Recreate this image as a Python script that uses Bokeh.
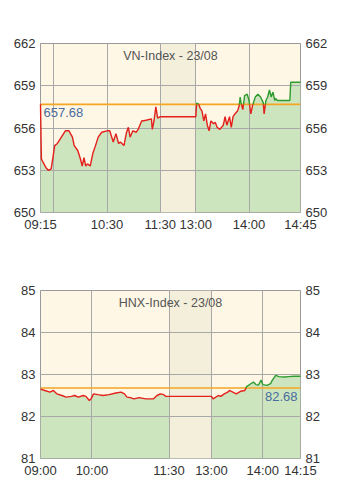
from bokeh.plotting import figure
from bokeh.layouts import column
from bokeh.models import Range1d, LinearAxis, FixedTicker, Label, Span
from bokeh.embed import file_html
from bokeh.resources import INLINE

# ---------------- VN-Index data ----------------
vn_title = "VN-Index - 23/08"
vn_ref = 657.68
vn_times = ["09:15", "09:16", "09:21", "09:24", "09:27", "09:29", "09:31", "09:34", "09:36", "09:40",
            "09:43", "09:47", "09:51", "09:53", "09:57", "10:00", "10:02", "10:04", "10:06", "10:08",
            "10:11", "10:14", "10:17", "10:20", "10:24", "10:30", "10:33", "10:37", "10:40", "10:43",
            "10:45", "10:49", "10:52", "10:54", "10:56", "10:59", "11:03", "11:05", "11:07", "11:09",
            "11:14", "11:20", "11:21", "11:23", "11:25", "11:27", "11:30",
            "13:00", "13:01", "13:03", "13:05", "13:07", "13:09", "13:11", "13:13", "13:15", "13:17",
            "13:20", "13:22", "13:24", "13:27", "13:31", "13:33", "13:35", "13:38", "13:40", "13:42",
            "13:44", "13:47", "13:49", "13:50", "13:51", "13:53", "13:55", "13:58", "14:00", "14:02",
            "14:04", "14:07", "14:10", "14:13", "14:16", "14:17", "14:19", "14:21", "14:23", "14:25",
            "14:27", "14:29", "14:30", "14:32", "14:46", "14:47", "14:58"]
vn_values = [657.68, 653.8, 653.2, 652.98, 653.1, 653.9, 654.75, 654.9, 655.1, 655.5,
             655.8, 655.8, 655.35, 654.75, 654.4, 653.8, 653.3, 653.9, 653.3, 653.45,
             653.3, 654.2, 654.75, 655.35, 655.7, 655.8, 655.8, 655.0, 655.6, 654.9,
             655.0, 654.75, 655.7, 656.05, 655.35, 655.8, 655.7, 655.9, 656.2, 656.5,
             656.55, 656.65, 655.9, 656.55, 657.5, 656.7, 656.8,
             656.8, 657.77, 657.7, 657.4, 657.2, 656.5, 657.0, 656.2, 655.8, 656.5,
             656.3, 656.4, 656.05, 655.9, 656.2, 656.8, 656.2, 656.8, 656.05, 656.8,
             657.0, 657.2, 657.6, 658.2, 657.8, 657.3, 658.3, 658.4, 657.95, 657.0,
             657.6, 658.2, 658.4, 658.2, 657.8, 657.0, 657.95, 658.2, 658.7, 658.2,
             658.55, 657.95, 658.1, 657.95, 657.95, 659.25, 659.25]
vn_yticks = [650, 653, 656, 659, 662]
vn_xtick_times = ["09:15", "10:30", "11:30", "13:00", "14:00", "14:58"]
vn_xtick_labels = ["09:15", "10:30", "11:30", "13:00", "14:00", "14:45"]
vn_xgrid_times = ["09:30", "10:30", "11:30", "13:00", "14:00"]
vn_session = ("09:15", "11:30", "13:00", "14:58")
vn_gap = 40  # minutes of axis width given to the lunch break

# ---------------- HNX-Index data ----------------
hnx_title = "HNX-Index - 23/08"
hnx_ref = 82.68
hnx_times = ["09:00", "09:05", "09:11", "09:15", "09:19", "09:25", "09:30", "09:36", "09:40", "09:44",
             "09:50", "09:53", "09:57", "09:59", "10:02", "10:07", "10:13", "10:20", "10:28", "10:34",
             "10:38", "10:41", "10:45", "10:49", "10:55", "11:03", "11:12", "11:16", "11:20", "11:24",
             "11:26", "11:30",
             "13:00", "13:02", "13:08", "13:11", "13:15", "13:19", "13:21", "13:25", "13:29", "13:34",
             "13:39", "13:41", "13:46", "13:49", "13:52", "13:55", "13:58", "14:00", "14:05", "14:09",
             "14:11", "14:15", "14:19", "14:25", "14:30", "14:36", "14:44"]
hnx_values = [82.65, 82.62, 82.58, 82.62, 82.54, 82.5, 82.46, 82.48, 82.5, 82.46,
              82.5, 82.48, 82.38, 82.42, 82.54, 82.52, 82.5, 82.52, 82.56, 82.58,
              82.54, 82.46, 82.45, 82.42, 82.45, 82.42, 82.42, 82.5, 82.54, 82.52,
              82.48, 82.48,
              82.48, 82.42, 82.5, 82.48, 82.54, 82.58, 82.62, 82.58, 82.54, 82.6,
              82.62, 82.71, 82.78, 82.82, 82.76, 82.75, 82.87, 82.76, 82.74, 82.78,
              82.86, 82.98, 82.95, 82.94, 82.95, 82.96, 82.96]
hnx_yticks = [81, 82, 83, 84, 85]
hnx_xtick_times = ["09:00", "10:00", "11:30", "13:00", "14:00", "14:44"]
hnx_xtick_labels = ["09:00", "10:00", "11:30", "13:00", "14:00", "14:15"]
hnx_xgrid_times = ["10:00", "11:30", "13:00", "14:00"]
hnx_session = ("09:00", "11:30", "13:00", "14:44")
hnx_gap = 49.5

FONT = "Liberation Sans"
BG = "#FFF7E6"
GREEN_FILL = "#CDE5BF"
LUNCH = "#F4EFDB"
UP = "#2E9B2E"
DOWN = "#E3201B"
REF = "#F5A623"
GRID = "#A8A8A8"


def minutes(t):
    h, m = t.split(":")
    return int(h) * 60 + int(m)


def make_mapper(session, gap):
    open_m, brk_m, resume_m, _ = [minutes(s) for s in session]

    def to_x(t):
        m = minutes(t)
        if m <= brk_m:
            return m - open_m
        return (brk_m - open_m) + gap + (m - resume_m)
    return to_x


def colored_paths(xs, ys, ref):
    paths = []  # (color, xs, ys)

    def add(color, x0, y0, x1, y1):
        if paths and paths[-1][0] == color:
            paths[-1][1].append(x1)
            paths[-1][2].append(y1)
        else:
            paths.append((color, [x0, x1], [y0, y1]))

    for i in range(len(xs) - 1):
        x0, y0, x1, y1 = xs[i], ys[i], xs[i + 1], ys[i + 1]
        if (y0 - ref) * (y1 - ref) < 0:
            xc = x0 + (ref - y0) * (x1 - x0) / (y1 - y0)
            add(UP if y0 > ref else DOWN, x0, y0, xc, ref)
            add(UP if y1 > ref else DOWN, xc, ref, x1, y1)
        else:
            mid = (y0 + y1) / 2
            add(UP if mid > ref else DOWN, x0, y0, x1, y1)
    return paths


def make_chart(title, ref, times, values, yticks, xt_times, xt_labels, xg_times,
               session, gap, ref_label_side, height, borders):
    to_x = make_mapper(session, gap)
    xs = [to_x(t) for t in times]
    x0, x1 = to_x(session[0]), to_x(session[3])
    y0, y1 = yticks[0], yticks[-1]
    bl, br, bt, bb = borders
    p = figure(width=349, height=height, output_backend="svg", toolbar_location=None,
               x_range=Range1d(x0, x1), y_range=Range1d(y0, y1),
               min_border_left=bl, min_border_right=br, min_border_top=bt, min_border_bottom=bb)
    p.background_fill_color = BG
    p.border_fill_color = "white"
    p.outline_line_color = "#9A9A9A"
    p.outline_line_width = 1

    # area under the index line
    p.varea(x=xs, y1=[y0] * len(xs), y2=values, fill_color=GREEN_FILL)
    # lunch break band
    p.quad(left=[to_x(session[1])], right=[to_x(session[1]) + gap], bottom=[y0], top=[y1],
           fill_color=LUNCH, line_color=None)

    # reference line
    p.add_layout(Span(location=ref, dimension="width", line_color=REF, line_width=1.6))

    # index line, red below / green above the reference
    for color, px, py in colored_paths(xs, values, ref):
        r = p.line(px, py, line_color=color, line_width=1.4)
        r.level = "overlay"

    # axes
    xtick_pos = [to_x(t) for t in xt_times]
    p.xaxis.ticker = FixedTicker(ticks=xtick_pos)
    p.xaxis.major_label_overrides = {pos: lab for pos, lab in zip(xtick_pos, xt_labels)}
    p.yaxis.ticker = FixedTicker(ticks=yticks)
    right = LinearAxis(ticker=FixedTicker(ticks=yticks))
    p.add_layout(right, "right")
    for ax in p.axis:
        ax.axis_line_color = None
        ax.major_tick_line_color = None
        ax.minor_tick_line_color = None
        ax.major_tick_out = 0
        ax.major_tick_in = 0
        ax.minor_tick_out = 0
        ax.minor_tick_in = 0
        ax.major_label_text_font = FONT
        ax.major_label_text_font_size = "13px"
        ax.major_label_text_color = "#333333"
        ax.major_label_standoff = 5
    p.xaxis.major_label_standoff = 4

    p.xgrid.ticker = FixedTicker(ticks=[to_x(t) for t in xg_times])
    p.ygrid.ticker = FixedTicker(ticks=yticks)
    for g in (p.xgrid, p.ygrid):
        g.grid_line_color = GRID
        g.grid_line_width = 1
        g.level = "guide"

    p.add_layout(Label(x=(x0 + x1) / 2, y=y1, y_offset=-5, text=title, text_align="center",
                       text_baseline="top", text_font=FONT, text_font_size="12.5px",
                       text_color="#555555"))
    if ref_label_side == "left":
        lab = Label(x=x0, y=ref, x_offset=3, y_offset=-4, text=f"{ref:.2f}", text_align="left",
                    text_baseline="top", text_font=FONT, text_font_size="13px", text_color="#4A6C9E")
    else:
        lab = Label(x=x1, y=ref, x_offset=-3, y_offset=-4, text=f"{ref:.2f}", text_align="right",
                    text_baseline="top", text_font=FONT, text_font_size="13px", text_color="#4A6C9E")
    p.add_layout(lab)
    return p


p1 = make_chart(vn_title, vn_ref, vn_times, vn_values, vn_yticks, vn_xtick_times, vn_xtick_labels,
                vn_xgrid_times, vn_session, vn_gap, "left", 250, (40, 46, 43, 38))
p2 = make_chart(hnx_title, hnx_ref, hnx_times, hnx_values, hnx_yticks, hnx_xtick_times,
                hnx_xtick_labels, hnx_xgrid_times, hnx_session, hnx_gap, "right", 238, (37, 49, 40, 30))

layout = column(p1, p2, spacing=0)
open("out.html", "w").write(file_html(layout, INLINE))
